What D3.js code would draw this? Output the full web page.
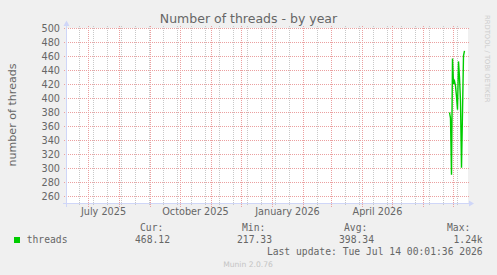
<!DOCTYPE html>
<html>
<head>
<meta charset="utf-8">
<script src="https://cdn.jsdelivr.net/npm/d3@7"></script>
<style>
  html, body { margin: 0; padding: 0; background: #F0F0F0; }
  svg { display: block; }
</style>
</head>
<body>
<svg id="chart" width="497" height="275"></svg>
<script>
// ---- data ----
const title = "Number of threads - by year";
const yAxisLabel = "number of threads";
const rangeStart = "2025-06-09T00:01:36";
const rangeEnd = "2026-07-14T00:01:36";
const dates = ["2026-06-27","2026-06-28","2026-06-29","2026-06-30","2026-07-01","2026-07-02",
               "2026-07-03","2026-07-04","2026-07-05","2026-07-06","2026-07-07","2026-07-08",
               "2026-07-09","2026-07-10","2026-07-11","2026-07-12"];
const threads = [380, 372, 291, 457, 421, 425, 418, 403, 384, 453, 430, 396, 301, 380, 461, 468.12];
const yTicks = [260, 280, 300, 320, 340, 360, 380, 400, 420, 440, 460, 480, 500];
const yDomain = [250, 500];
const xLabelDates = ["2025-07-01", "2025-10-01", "2026-01-01", "2026-04-01"];
const xLabelTexts = ["July 2025", "October 2025", "January 2026", "April 2026"];
const minorGridStart = "2025-06-22";
const seriesName = "threads";
const legendHeaders = ["Cur:", "Min:", "Avg:", "Max:"];
const legendValues = ["468.12", "217.33", "398.34", "1.24k"];
const lastUpdate = "Last update: Tue Jul 14 00:01:36 2026";
const watermark = "Munin 2.0.76";
const sideText = "RRDTOOL / TOBI OETIKER";

// ---- drawing ----
const svg = d3.select("#chart");
const parse = d3.isoParse;
const x = d3.scaleTime().domain([parse(rangeStart), parse(rangeEnd)]).range([66.5, 466.5]);
const y = d3.scaleLinear().domain(yDomain).range([203.5, 28.5]);
const col = d => Math.round(x(d) - 0.5);
const row = v => Math.round(y(v) - 0.5);

const FONT = "'DejaVu Sans', sans-serif";
const MONO = "'DejaVu Sans Mono', monospace";
const TXT = "#666666";
const GRID = "#c8c8c8";
const MGRID = "#eba0a0";
const AXIS = "#CFD6F8";

const defs = svg.append("defs");
function dotPattern(id, w, h, color) {
  const p = defs.append("pattern").attr("id", id).attr("patternUnits", "userSpaceOnUse")
    .attr("width", w).attr("height", h);
  p.append("rect").attr("width", 1).attr("height", 1).attr("fill", color);
}
dotPattern("hgrid", 2, 1, GRID);
dotPattern("vgrid", 1, 2, GRID);
dotPattern("hmgrid", 2, 1, MGRID);
dotPattern("vmgrid", 1, 2, MGRID);

svg.append("rect").attr("width", 497).attr("height", 275).attr("fill", "#F0F0F0");
svg.append("rect").attr("x", 66).attr("y", 28).attr("width", 402).attr("height", 176).attr("fill", "#FFFFFF");

const g = svg.append("g").attr("shape-rendering", "crispEdges");

// minor horizontal grid
const minorY = d3.range(yDomain[0] + 10, yDomain[1], 20);
g.selectAll(".hmin").data(minorY).join("rect")
  .attr("x", 64).attr("width", 405).attr("y", row).attr("height", 1)
  .attr("fill", "url(#hgrid)");

// minor vertical grid (biweekly)
const minorX = d3.timeDay.range(parse(minorGridStart), parse(rangeEnd), 14);
g.selectAll(".vmin").data(minorX).join("rect")
  .attr("x", col).attr("width", 1).attr("y", 26).attr("height", 180)
  .attr("fill", "url(#vgrid)");

// major horizontal grid
g.selectAll(".hmaj").data(yTicks).join("rect")
  .attr("x", 63).attr("width", 406).attr("y", row).attr("height", 1)
  .attr("fill", "url(#hmgrid)");

// major vertical grid (months)
const months = d3.timeMonth.range(parse(rangeStart), parse(rangeEnd));
g.selectAll(".vmaj").data(months).join("rect")
  .attr("x", col).attr("width", 1).attr("y", 26).attr("height", 181)
  .attr("fill", "url(#vmgrid)");

// axes
g.append("rect").attr("x", 63).attr("width", 407).attr("y", 203).attr("height", 1).attr("fill", AXIS);
g.append("rect").attr("x", 66).attr("width", 1).attr("y", 24).attr("height", 183).attr("fill", AXIS);
svg.append("path").attr("d", "M469,200.5 L474,203.5 L469,206.5 Z").attr("fill", AXIS);
svg.append("path").attr("d", "M63.5,26 L66.5,20.5 L69.5,26 Z").attr("fill", AXIS);

// y tick labels
svg.selectAll(".ylab").data(yTicks).join("text")
  .attr("x", 60).attr("y", d => y(d) + 3.5)
  .attr("text-anchor", "end")
  .attr("font-family", FONT).attr("font-size", "9.7px").attr("fill", TXT)
  .text(d => d);

// x labels (centered half a month after the tick)
svg.selectAll(".xlab").data(xLabelDates).join("text")
  .attr("x", d => x(d3.timeDay.offset(parse(d), 15)))
  .attr("y", 215)
  .attr("text-anchor", "middle")
  .attr("font-family", FONT).attr("font-size", "9.7px").attr("fill", TXT)
  .text((d, i) => xLabelTexts[i]);

// data line
const line = d3.line().x((d, i) => x(parse(dates[i]))).y(d => y(d));
svg.append("path").datum(threads)
  .attr("d", line)
  .attr("fill", "none").attr("stroke", "#00CC00").attr("stroke-width", 1.4)
  .attr("stroke-linejoin", "miter");

// title
svg.append("text").attr("x", 248.5).attr("y", 23).attr("text-anchor", "middle")
  .attr("font-family", FONT).attr("font-size", "12.5px").attr("fill", TXT).text(title);

// y axis label
svg.append("text").attr("transform", "translate(16,115) rotate(-90)")
  .attr("text-anchor", "middle")
  .attr("font-family", FONT).attr("font-size", "11.1px").attr("fill", TXT).text(yAxisLabel);

// side text
svg.append("text").attr("transform", "translate(485,15) rotate(90)")
  .attr("font-family", FONT).attr("font-size", "6.8px").attr("fill", "#cccccc").text(sideText);

// legend
const headerX = [140, 242, 344, 447];
const valueX = [170, 272, 374, 482.7];
svg.selectAll(".lh").data(legendHeaders).join("text")
  .attr("x", (d, i) => headerX[i]).attr("y", 231)
  .attr("font-family", MONO).attr("font-size", "9.7px").attr("fill", TXT)
  .text(d => d);
svg.append("rect").attr("x", 14).attr("y", 237).attr("width", 6).attr("height", 6).attr("fill", "#00CC00");
svg.append("text").attr("x", 26.7).attr("y", 243)
  .attr("font-family", MONO).attr("font-size", "9.7px").attr("fill", TXT).text(seriesName);
svg.selectAll(".lv").data(legendValues).join("text")
  .attr("x", (d, i) => valueX[i]).attr("y", 243).attr("text-anchor", "end")
  .attr("font-family", MONO).attr("font-size", "9.7px").attr("fill", TXT).text(d => d);
svg.append("text").attr("x", 482.7).attr("y", 255).attr("text-anchor", "end")
  .attr("font-family", MONO).attr("font-size", "9.7px").attr("fill", TXT).text(lastUpdate);

// watermark
svg.append("text").attr("x", 248).attr("y", 266.5).attr("text-anchor", "middle")
  .attr("font-family", FONT).attr("font-size", "7.6px").attr("fill", "#c4c4c4").text(watermark);
</script>
</body>
</html>
